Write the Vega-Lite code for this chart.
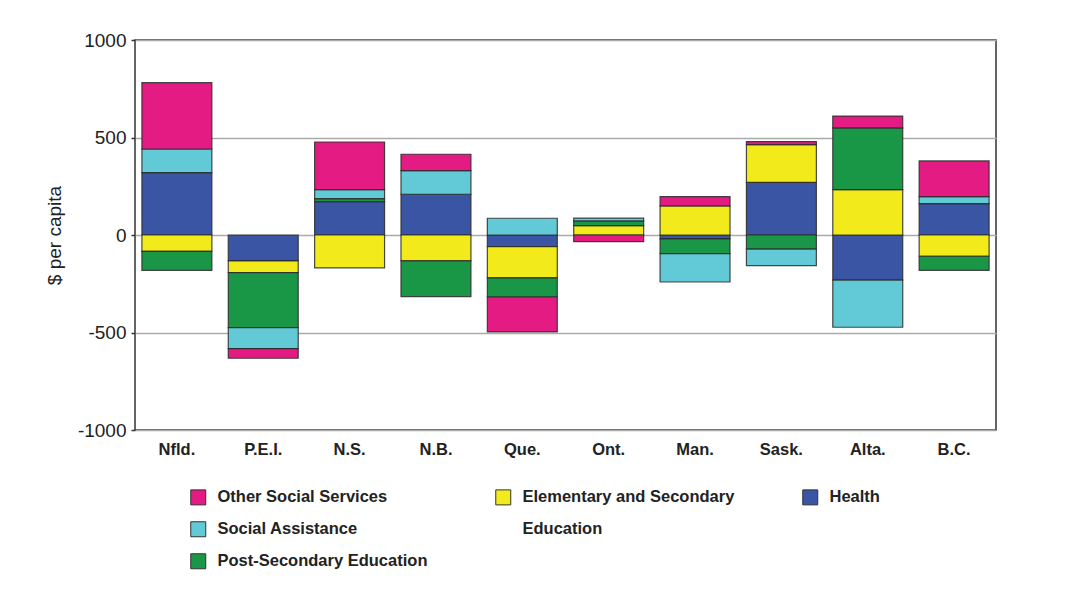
{
  "$schema": "https://vega.github.io/schema/vega-lite/v6.json",
  "width": 861,
  "height": 390,
  "autosize": {"type": "none"},
  "padding": {"left": 135, "top": 40, "right": 75, "bottom": 169},
  "background": "white",
  "config": {
    "font": "Liberation Sans",
    "view": {"stroke": "#333333", "strokeWidth": 1.5}
  },
  "data": {
    "values": [
      {"province": "Nfld.", "category": "Health", "rank": 1, "value": 320},
      {"province": "Nfld.", "category": "Elementary and Secondary Education", "rank": 2, "value": -84},
      {"province": "Nfld.", "category": "Post-Secondary Education", "rank": 3, "value": -97},
      {"province": "Nfld.", "category": "Social Assistance", "rank": 4, "value": 121},
      {"province": "Nfld.", "category": "Other Social Services", "rank": 5, "value": 340},
      {"province": "P.E.I.", "category": "Health", "rank": 1, "value": -133},
      {"province": "P.E.I.", "category": "Elementary and Secondary Education", "rank": 2, "value": -60},
      {"province": "P.E.I.", "category": "Post-Secondary Education", "rank": 3, "value": -282},
      {"province": "P.E.I.", "category": "Social Assistance", "rank": 4, "value": -108},
      {"province": "P.E.I.", "category": "Other Social Services", "rank": 5, "value": -49},
      {"province": "N.S.", "category": "Health", "rank": 1, "value": 171},
      {"province": "N.S.", "category": "Elementary and Secondary Education", "rank": 2, "value": -169},
      {"province": "N.S.", "category": "Post-Secondary Education", "rank": 3, "value": 16},
      {"province": "N.S.", "category": "Social Assistance", "rank": 4, "value": 46},
      {"province": "N.S.", "category": "Other Social Services", "rank": 5, "value": 244},
      {"province": "N.B.", "category": "Health", "rank": 1, "value": 209},
      {"province": "N.B.", "category": "Elementary and Secondary Education", "rank": 2, "value": -133},
      {"province": "N.B.", "category": "Post-Secondary Education", "rank": 3, "value": -183},
      {"province": "N.B.", "category": "Social Assistance", "rank": 4, "value": 121},
      {"province": "N.B.", "category": "Other Social Services", "rank": 5, "value": 84},
      {"province": "Que.", "category": "Health", "rank": 1, "value": -60},
      {"province": "Que.", "category": "Elementary and Secondary Education", "rank": 2, "value": -160},
      {"province": "Que.", "category": "Post-Secondary Education", "rank": 3, "value": -98},
      {"province": "Que.", "category": "Social Assistance", "rank": 4, "value": 86},
      {"province": "Que.", "category": "Other Social Services", "rank": 5, "value": -179},
      {"province": "Ont.", "category": "Elementary and Secondary Education", "rank": 2, "value": 48},
      {"province": "Ont.", "category": "Post-Secondary Education", "rank": 3, "value": 24},
      {"province": "Ont.", "category": "Social Assistance", "rank": 4, "value": 15},
      {"province": "Ont.", "category": "Other Social Services", "rank": 5, "value": -34},
      {"province": "Man.", "category": "Health", "rank": 1, "value": -20},
      {"province": "Man.", "category": "Elementary and Secondary Education", "rank": 2, "value": 149},
      {"province": "Man.", "category": "Post-Secondary Education", "rank": 3, "value": -76},
      {"province": "Man.", "category": "Social Assistance", "rank": 4, "value": -145},
      {"province": "Man.", "category": "Other Social Services", "rank": 5, "value": 48},
      {"province": "Sask.", "category": "Health", "rank": 1, "value": 270},
      {"province": "Sask.", "category": "Elementary and Secondary Education", "rank": 2, "value": 193},
      {"province": "Sask.", "category": "Post-Secondary Education", "rank": 3, "value": -72},
      {"province": "Sask.", "category": "Social Assistance", "rank": 4, "value": -85},
      {"province": "Sask.", "category": "Other Social Services", "rank": 5, "value": 16},
      {"province": "Alta.", "category": "Health", "rank": 1, "value": -231},
      {"province": "Alta.", "category": "Elementary and Secondary Education", "rank": 2, "value": 233},
      {"province": "Alta.", "category": "Post-Secondary Education", "rank": 3, "value": 316},
      {"province": "Alta.", "category": "Social Assistance", "rank": 4, "value": -242},
      {"province": "Alta.", "category": "Other Social Services", "rank": 5, "value": 61},
      {"province": "B.C.", "category": "Health", "rank": 1, "value": 161},
      {"province": "B.C.", "category": "Elementary and Secondary Education", "rank": 2, "value": -109},
      {"province": "B.C.", "category": "Post-Secondary Education", "rank": 3, "value": -72},
      {"province": "B.C.", "category": "Social Assistance", "rank": 4, "value": 36},
      {"province": "B.C.", "category": "Other Social Services", "rank": 5, "value": 183}
    ]
  },
  "mark": {"type": "bar", "stroke": "#2a2a2a", "strokeWidth": 1.2, "strokeOpacity": 0.85},
  "encoding": {
    "x": {
      "field": "province",
      "type": "nominal",
      "sort": ["Nfld.", "P.E.I.", "N.S.", "N.B.", "Que.", "Ont.", "Man.", "Sask.", "Alta.", "B.C."],
      "scale": {"paddingInner": 0.19, "paddingOuter": 0.08},
      "axis": {
        "title": null,
        "labelAngle": 0,
        "domain": false,
        "ticks": false,
        "labelFont": "Liberation Sans",
        "labelFontWeight": "bold",
        "labelFontSize": 16.5,
        "labelColor": "#222222",
        "labelPadding": 11
      }
    },
    "y": {
      "field": "value",
      "type": "quantitative",
      "stack": "zero",
      "scale": {"domain": [-1000, 1000], "nice": false},
      "axis": {
        "title": "$ per capita",
        "titleFont": "Liberation Sans",
        "titleFontSize": 19,
        "titleFontWeight": "normal",
        "titleColor": "#222222",
        "titlePadding": 13,
        "values": [-1000, -500, 0, 500, 1000],
        "labelExpr": "datum.value < 0 ? '-' + abs(datum.value) : '' + datum.value",
        "labelFontSize": 19,
        "labelColor": "#222222",
        "labelPadding": 5,
        "tickSize": 4,
        "tickColor": "#333333",
        "tickWidth": 1.5,
        "domain": false,
        "gridColor": "#aaaaaa",
        "gridWidth": 1.5
      }
    },
    "color": {
      "field": "category",
      "type": "nominal",
      "scale": {
        "domain": ["Other Social Services", "Elementary and Secondary Education", "Health", "Social Assistance", "Education ", "  ", "Post-Secondary Education"],
        "range": ["#e31b82", "#f2ea1a", "#3a55a3", "#62c9d6", "transparent", "transparent", "#1a9746"]
      },
      "legend": {
        "title": null,
        "orient": "none",
        "legendX": 55,
        "legendY": 449,
        "columns": 3,
        "direction": "horizontal",
        "padding": 0,
        "symbolType": "square",
        "symbolSize": 225,
        "symbolStrokeWidth": 1,
        "symbolStrokeColor": {"expr": "datum.value == 'Education ' || datum.value == '  ' ? 'transparent' : '#333333'"},
        "symbolOpacity": 1,
        "labelFont": "Liberation Sans",
        "labelFontWeight": "bold",
        "labelFontSize": 16.5,
        "labelColor": "#222222",
        "labelOffset": 11,
        "labelLimit": 400,
        "columnPadding": 65,
        "rowPadding": 12,
        "labelExpr": "datum.value == 'Elementary and Secondary Education' ? 'Elementary and Secondary' : datum.value == 'Education ' ? 'Education' : datum.label"
      }
    },
    "order": {"field": "rank", "type": "quantitative"}
  }
}
